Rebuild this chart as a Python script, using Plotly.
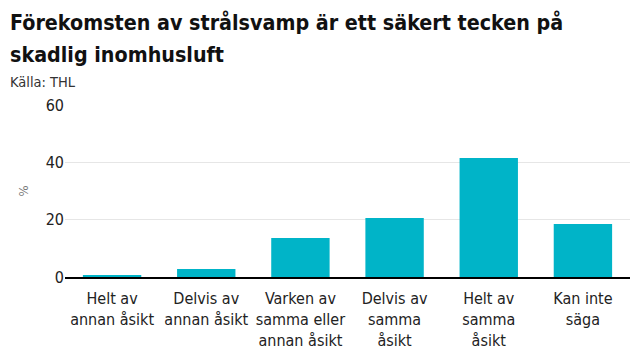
import plotly.graph_objects as go

categories = ["Helt av<br>annan åsikt", "Delvis av<br>annan åsikt", "Varken av<br>samma eller<br>annan åsikt",
              "Delvis av<br>samma<br>åsikt", "Helt av<br>samma<br>åsikt", "Kan inte<br>säga"]
values = [0.5, 2.8, 13.6, 20.6, 41.5, 18.5]
y_ticks = [0, 20, 40, 60]
title_lines = ["Förekomsten av strålsvamp är ett säkert tecken på", "skadlig inomhusluft"]
source = "Källa: THL"

FONT = "DejaVu Sans Condensed, Roboto, sans-serif"

fig = go.Figure(go.Bar(x=categories, y=values, marker_color="#00b4c8", marker_line_width=0,
                       hoverinfo="x+y"))

PH = 172
PW = 565
TS = 21.3
fig.update_layout(
    width=632, height=352,
    margin=dict(l=57, r=10, t=97, b=83),
    paper_bgcolor="white", plot_bgcolor="white",
    bargap=0.38,
    showlegend=False,
    font=dict(family=FONT, color="#222222", size=16),
    annotations=[
        dict(text="<b>" + title_lines[0] + "</b>",
             xref="paper", yref="paper", x=-57/PW, y=1 + (97 - 14.5)/PH, xanchor="left", yanchor="middle",
             align="left", showarrow=False, font=dict(size=TS, color="#111111", family=FONT)),
        dict(text="<b>" + title_lines[1] + "</b>",
             xref="paper", yref="paper", x=-57/PW, y=1 + (97 - 46.5)/PH, xanchor="left", yanchor="middle",
             align="left", showarrow=False, font=dict(size=TS, color="#111111", family=FONT)),
        dict(text=source, xref="paper", yref="paper", x=-57/PW, y=1 + 33/PH,
             xanchor="left", yanchor="top", showarrow=False,
             font=dict(size=14.5, color="#333333", family=FONT)),
    ],
)
fig.update_xaxes(showgrid=False, ticks="", showline=True, linecolor="#000000", linewidth=2,
                 tickfont=dict(size=16, color="#222222"), ticklabelstandoff=6)
fig.update_yaxes(range=[0, 60], tickvals=y_ticks, showgrid=True, gridcolor="#e6e6e6", gridwidth=1,
                 zeroline=False, ticks="", tickfont=dict(size=16, color="#222222"),
                 title=dict(text="%", font=dict(size=13, color="#777777"), standoff=14))

fig.write_html("out.html")
